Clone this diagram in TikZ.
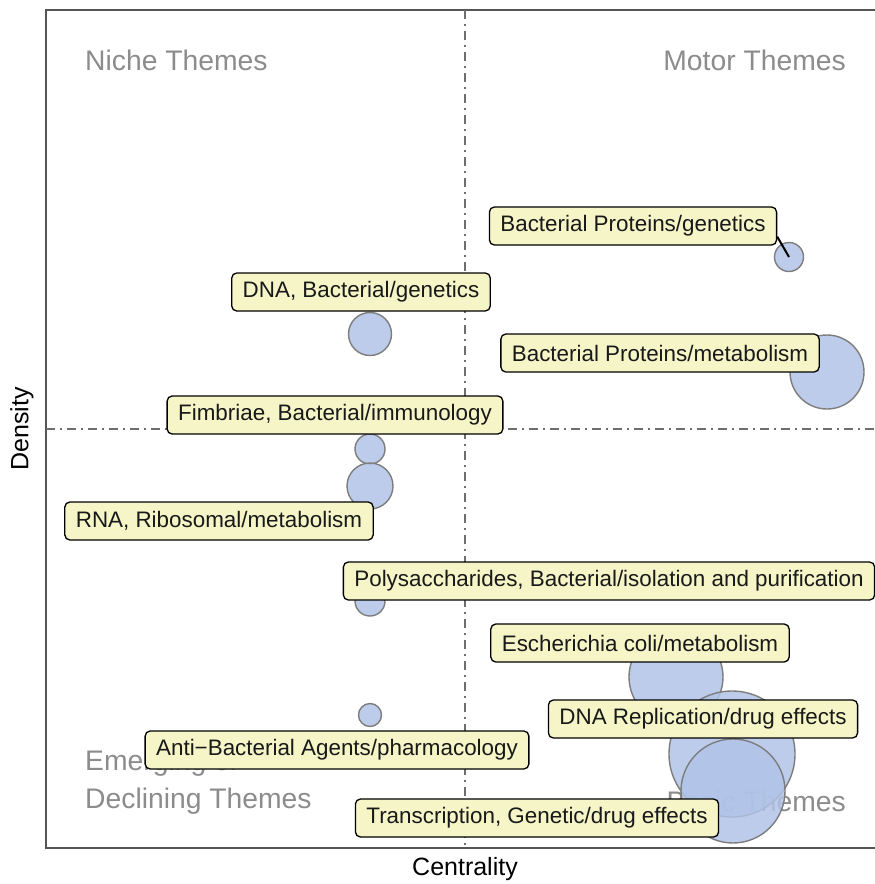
\documentclass[tikz,border=0pt]{standalone}
\usepackage{fontspec}
\setmainfont{Liberation Sans}
\definecolor{bubblefill}{RGB}{176,195,230}
\definecolor{bubbleedge}{RGB}{125,125,125}
\definecolor{labelfill}{RGB}{245,245,200}
\definecolor{quadgray}{RGB}{140,140,140}
\definecolor{refline}{RGB}{110,110,110}
\definecolor{frame}{RGB}{85,85,85}
\begin{document}
\begin{tikzpicture}[x=1pt,y=-1pt,
  bubble/.style={circle,draw=bubbleedge,line width=1.4pt,fill=bubblefill,fill opacity=0.85,inner sep=0pt},
  tag/.style={draw=black,line width=1.3pt,fill=labelfill,rounded corners=5pt,
    inner xsep=11pt,inner ysep=0pt,minimum height=38pt,
    font=\fontsize{22.4}{26}\selectfont,text=black!90},
  quad/.style={text=quadgray,font=\fontsize{28.3}{38}\selectfont,inner sep=0pt},
  axislab/.style={font=\fontsize{25}{28}\selectfont,inner sep=0pt},
  ref/.style={draw=refline,line width=2.2pt,dash pattern=on 9pt off 5pt on 2pt off 5pt}]
\useasboundingbox (0,0) rectangle (875,884);

% panel frame
\draw[frame,line width=1.4pt] (46,10) rectangle (880,848);

% quadrant separators
\coordinate (vt) at (465,10);
\coordinate (vb) at (465,848);
\coordinate (hl) at (46,429);
\coordinate (hr) at (875,429);
\draw[ref] (vt) -- (vb);
\draw[ref] (hl) -- (hr);

% quadrant names
\node[quad,anchor=west] (niche) at (85,60) {Niche Themes};
\node[quad,anchor=east] (motor) at (846,60) {Motor Themes};
\node[quad,anchor=west,align=left] (emerg) at (85,782) {Emerging or\\Declining Themes};
\node[quad,anchor=east] (basic) at (846,801) {Basic Themes};

% axis titles
\node[axislab] (xlab) at (465,869) {Centrality};
\node[axislab,rotate=90] (ylab) at (22,429) {Density};

% theme bubbles
\node[bubble,minimum size=29pt] (c1) at (789,257) {};
\node[bubble,minimum size=74pt] (c2) at (827,372) {};
\node[bubble,minimum size=43pt] (c3) at (370,334) {};
\node[bubble,minimum size=30pt] (c4) at (370,449) {};
\node[bubble,minimum size=46pt] (c5) at (370,486) {};
\node[bubble,minimum size=30pt] (c6) at (370,601) {};
\node[bubble,minimum size=23pt] (c7) at (370,715) {};
\node[bubble,minimum size=94pt] (c8) at (676,677) {};
\node[bubble,minimum size=126pt] (c9) at (732,754) {};
\node[bubble,minimum size=104pt] (c10) at (733,791) {};

% theme labels
\node[tag] (t1) at (633,226) {Bacterial Proteins/genetics};
\node[tag] (t3) at (361,292) {DNA, Bacterial/genetics};
\node[tag] (t2) at (660,353) {Bacterial Proteins/metabolism};
\node[tag] (t4) at (335,415) {Fimbriae, Bacterial/immunology};
\node[tag] (t5) at (219,521) {RNA, Ribosomal/metabolism};
\node[tag] (t6) at (609,581) {Polysaccharides, Bacterial/isolation and purification};
\node[tag] (t8) at (640,643) {Escherichia coli/metabolism};
\node[tag] (t9) at (703,719) {DNA Replication/drug effects};
\node[tag] (t7) at (337,750) {Anti−Bacterial Agents/pharmacology};
\node[tag] (t10) at (537,818) {Transcription, Genetic/drug effects};

% leader line from its label to the small bubble
\draw[black,line width=2pt] ([yshift=9pt]t1.south east) -- (c1.center);
\end{tikzpicture}
\end{document}
